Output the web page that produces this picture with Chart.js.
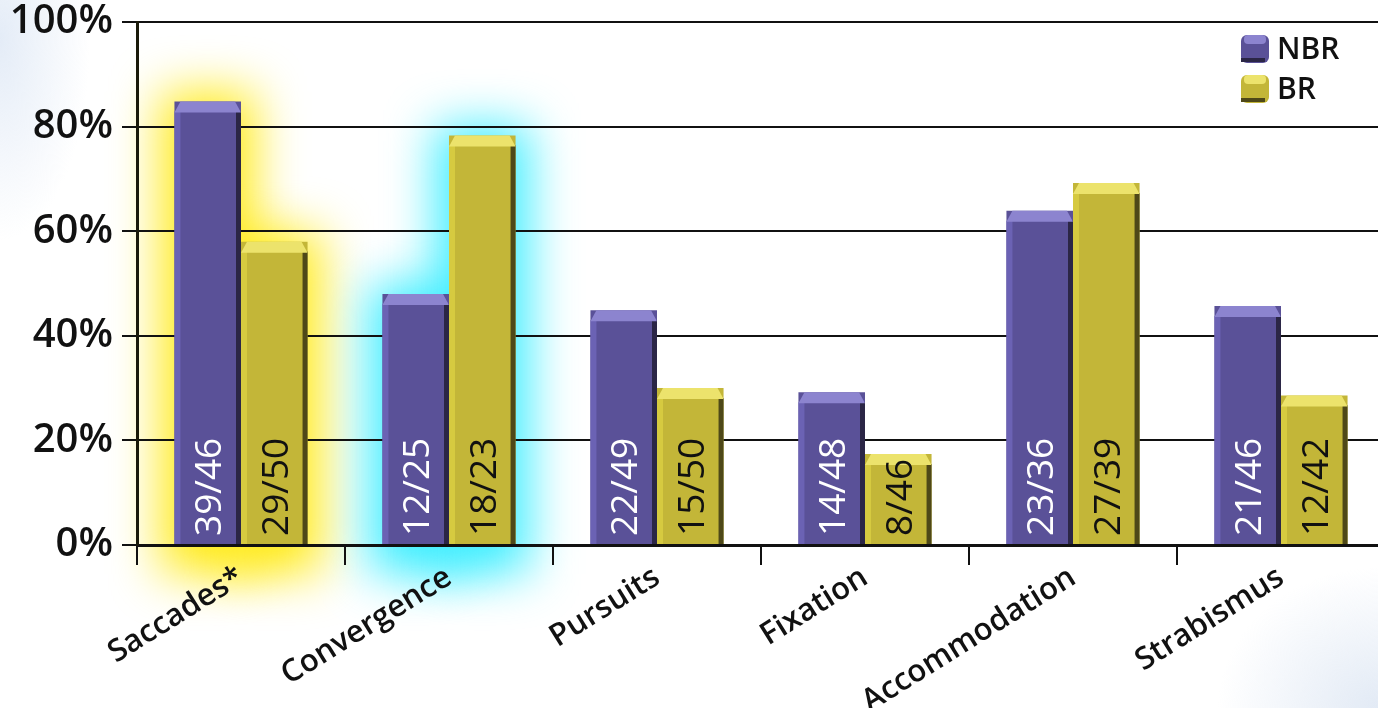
<!DOCTYPE html>
<html>
<head>
<meta charset="utf-8">
<script src="https://cdn.jsdelivr.net/npm/chart.js@4/dist/chart.umd.min.js"></script>
<style>
  html, body { margin: 0; padding: 0; overflow: hidden; }
  body {
    width: 1378px; height: 708px;
    background:
      radial-gradient(ellipse 90px 200px at 0 40px, #e4ecf7 0%, rgba(255,255,255,0) 100%),
      radial-gradient(ellipse 160px 140px at 100% 100%, #e2eaf5 0%, rgba(255,255,255,0) 100%),
      #fff;
  }
  #wrap { position: absolute; left: 0; top: 0; width: 1390px; height: 708px; }
</style>
</head>
<body>
<div id="wrap"><canvas id="chart"></canvas></div>
<script>
const categories = ['Saccades*', 'Convergence', 'Pursuits', 'Fixation', 'Accommodation', 'Strabismus']
const nbrValues = [84.8, 48.0, 44.9, 29.2, 63.9, 45.7]
const brValues = [58.0, 78.3, 30.0, 17.4, 69.2, 28.6]
const nbrLabels = ['39/46', '12/25', '22/49', '14/48', '23/36', '21/46']
const brLabels = ['29/50', '18/23', '15/50', '8/46', '27/39', '12/42']
const yTicks = [0, 20, 40, 60, 80, 100]
const glowColors = ['rgba(255,232,0,0.9)', 'rgba(30,235,255,0.85)', null, null, null, null]

const seriesNames = ['NBR', 'BR']
const front = ['#5a5198', '#c3b638']
const topFace = ['#8c84cf', '#ece36c']
const leftFace = ['#6b62b4', '#d6ca40']
const sideFace = ['#2b2646', '#4e4818']
const textColor = ['#ffffff', '#111111']

const deco = {
  id: 'deco',
  beforeDraw(chart) {
    const ctx = chart.ctx
    categories.forEach((c, i) => {
      if (!glowColors[i]) return
      ctx.save()
      ctx.filter = 'blur(24px)'
      ctx.fillStyle = glowColors[i]
      ;[0, 1].forEach(d => {
        const el = chart.getDatasetMeta(d).data[i]
        ctx.fillRect(el.x - el.width / 2 - 14, el.y - 10, el.width + 28, el.base - el.y + 40)
      })
      ctx.restore()
    })
  },
  afterDatasetsDraw(chart) {
    const ctx = chart.ctx
    const labels = [nbrLabels, brLabels]
    ;[0, 1].forEach(d => {
      chart.getDatasetMeta(d).data.forEach((el, i) => {
        const l = el.x - el.width / 2, r = el.x + el.width / 2
        const t = el.y, b = el.base
        ctx.save()
        ctx.fillStyle = leftFace[d]
        ctx.fillRect(l, t + 10, 6, b - t - 10)
        ctx.fillStyle = sideFace[d]
        ctx.fillRect(r - 5, t + 10, 5, b - t - 10)
        ctx.fillStyle = topFace[d]
        ctx.beginPath()
        ctx.moveTo(l, t + 11)
        ctx.lineTo(l + 6, t)
        ctx.lineTo(r - 6, t)
        ctx.lineTo(r, t + 11)
        ctx.closePath()
        ctx.fill()
        ctx.translate(el.x + 3, b - 8)
        ctx.rotate(-Math.PI / 2)
        ctx.fillStyle = textColor[d]
        ctx.font = '37px "Open Sans"'
        ctx.textAlign = 'left'
        ctx.textBaseline = 'middle'
        ctx.fillText(labels[d][i], 0, 0)
        ctx.restore()
      })
    })
  },
  afterDraw(chart) {
    const ctx = chart.ctx
    seriesNames.forEach((name, d) => {
      const x = 1241, y = 35 + d * 40, s = 28
      ctx.save()
      ctx.fillStyle = front[d]
      ctx.beginPath()
      ctx.roundRect(x, y, s, s, 6)
      ctx.fill()
      ctx.fillStyle = topFace[d]
      ctx.beginPath()
      ctx.roundRect(x + 3, y, s - 6, 9, 4)
      ctx.fill()
      ctx.fillStyle = sideFace[d]
      ctx.fillRect(x, y + s - 5, s - 4, 4)
      ctx.fillStyle = '#111'
      ctx.font = '600 30px "Open Sans"'
      ctx.textAlign = 'left'
      ctx.textBaseline = 'middle'
      ctx.fillText(name, x + s + 8, y + s / 2 + 1)
      ctx.restore()
    })
  }
}

new Chart('chart', {
  type: 'bar',
  data: {
    labels: categories,
    datasets: [
      { label: seriesNames[0], data: nbrValues, backgroundColor: front[0] },
      { label: seriesNames[1], data: brValues, backgroundColor: front[1] }
    ]
  },
  options: {
    responsive: true,
    maintainAspectRatio: false,
    animation: false,
    layout: { padding: { top: 22, right: 5, left: 0, bottom: 0 } },
    datasets: { bar: { barPercentage: 1, categoryPercentage: 0.64 } },
    plugins: { legend: { display: false }, tooltip: { enabled: false } },
    scales: {
      x: {
        afterFit: s => { s.height = 163; s.paddingLeft = 0; s.paddingRight = 0 },
        grid: { display: true, drawOnChartArea: false, tickLength: 20, lineWidth: 2, color: '#111' },
        border: { display: true, width: 3, color: '#111' },
        ticks: {
          color: '#111', minRotation: 32, maxRotation: 32, padding: -6,
          font: { family: 'Open Sans', size: 31, weight: '600' }
        }
      },
      y: {
        min: 0, max: 100,
        afterFit: s => { s.width = 137; s.paddingTop = 0; s.paddingBottom = 0 },
        afterBuildTicks: s => { s.ticks = yTicks.map(v => ({ value: v })) },
        grid: { color: '#111', lineWidth: 2, tickLength: 15 },
        border: { display: true, width: 3, color: '#1a1a0a' },
        ticks: {
          color: '#111', padding: 9,
          font: { family: 'Open Sans', size: 40, weight: '600' },
          callback: v => v + '%'
        }
      }
    }
  },
  plugins: [deco]
})
</script>
</body>
</html>
